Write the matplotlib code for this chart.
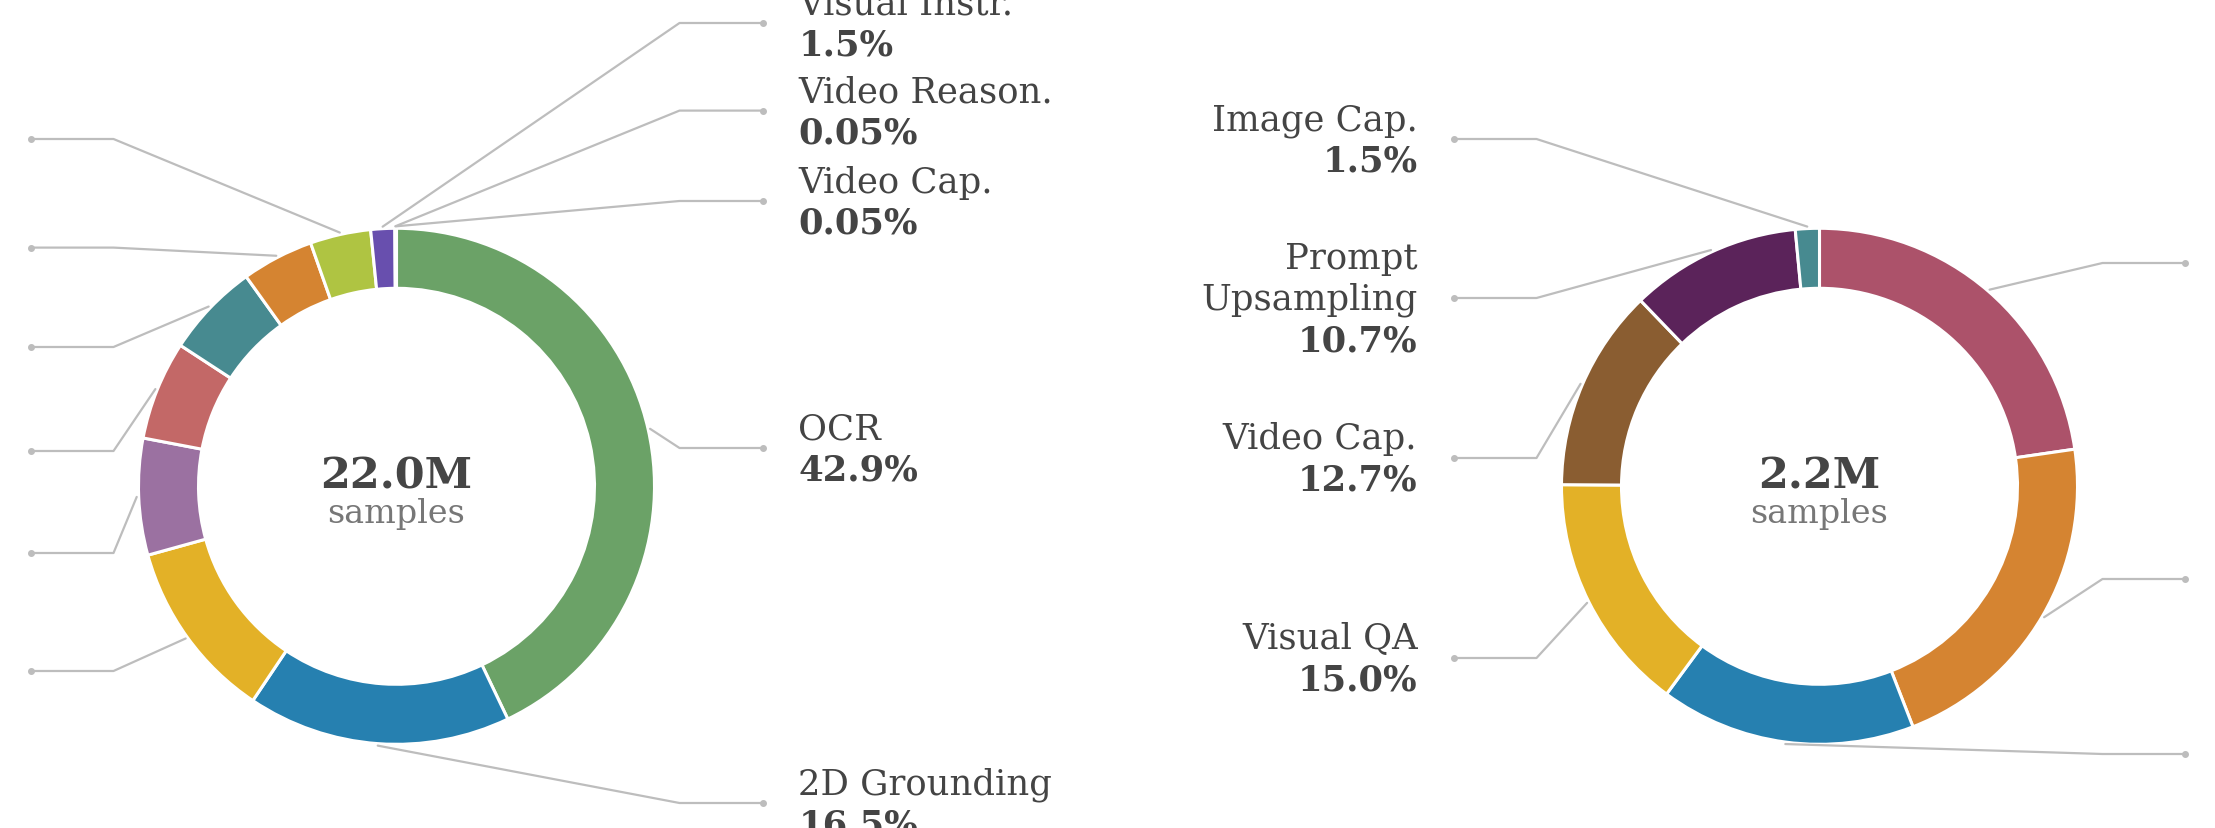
import matplotlib
matplotlib.use("Agg")
import matplotlib.pyplot as plt
import numpy as np

W, H = 2215, 829

# left donut: 22.0M samples (clockwise from 12 o'clock)
left_names = ["OCR", "2D Grounding", "Visual QA", "Counting", "Chart QA",
              "Image Cap.", "Doc. QA", "Text-only", "Visual Instr.",
              "Video Reason.", "Video Cap."]
left_pct = [42.9, 16.5, 11.3, 7.3, 6.2, 5.9, 4.5, 3.8, 1.5, 0.05, 0.05]
left_colors = ["#6ba267", "#2680b0", "#e3b127", "#9b71a1", "#c36867",
               "#478a90", "#d58431", "#afc442", "#684fae", "#c9c9c9", "#9a9a9a"]

# right donut: 2.2M samples
right_names = ["Embodied Reason.", "Physical Reason.", "2D Grounding",
               "Visual QA", "Video Cap.", "Prompt\nUpsampling", "Image Cap."]
right_pct = [22.7, 21.4, 16.0, 15.0, 12.7, 10.7, 1.5]
right_colors = ["#ac526a", "#d58431", "#2680b0", "#e3b127", "#8a5d31",
                "#5b235a", "#478a90"]

totals = ["22.0M", "2.2M"]

# layout: label side and leader-line height (pixels from top)
left_side = ["r", "r", "l", "l", "l", "l", "l", "l", "r", "r", "r"]
left_label_y = [449, 804, 672, 554, 452, 348, 248.6, 140, 24, 111.6, 202]
right_side = ["r", "r", "r", "l", "l", "l", "l"]
right_label_y = [264, 580, 755, 659, 459, 299, 140]

CENTERS = [(396.5, 487.3), (1819.5, 487.3)]
R, RING = 258, 60
ELBOW, DOT, TEXT_X = 283, 366, 402
LINE_STEP = 41
FONT = ["DejaVu Serif"]
TXT = "#444444"
LEAD = "#bdbdbd"


def fmt(v):
    return f"{v:.2f}%" if v < 0.1 else f"{v:.1f}%"


def donut(ax, center, names, pct, colors, sides, label_ys, total):
    cx, cy_img = center
    cy = H - cy_img
    wedges, _ = ax.pie(pct, colors=colors, startangle=90, counterclock=False,
                       radius=R, center=(cx, cy),
                       wedgeprops=dict(width=RING, edgecolor="white", linewidth=2.2))
    for w, name, v, side, ly in zip(wedges, names, pct, sides, label_ys):
        mid = np.deg2rad((w.theta1 + w.theta2) / 2)
        sx, sy = cx + (R + 2) * np.cos(mid), cy + (R + 2) * np.sin(mid)
        sgn = 1 if side == "r" else -1
        y = H - ly
        ex, dx = cx + sgn * ELBOW, cx + sgn * DOT
        ax.plot([sx, ex, dx], [sy, y, y], color=LEAD, lw=1.6,
                solid_capstyle="round", zorder=1)
        ax.plot([dx], [y], "o", color=LEAD, ms=4, zorder=1)
        lines = name.split("\n")
        n = len(lines) + 1
        tx = cx + sgn * TEXT_X
        ha = "left" if side == "r" else "right"
        for i, t in enumerate(lines + [fmt(v)]):
            yy = y - (i - (n - 1) / 2) * LINE_STEP - 1
            bold = i == n - 1
            ax.text(tx, yy, t, ha=ha, va="center", fontsize=25.5, color=TXT,
                    family=FONT, fontweight="bold" if bold else "normal")
    ax.text(cx, cy + 11, total, ha="center", va="center", fontsize=31,
            color="#454545", family=FONT, fontweight="bold")
    ax.text(cx, cy - 27, "samples", ha="center", va="center", fontsize=24,
            color="#777777", family=FONT)


def main():
    fig = plt.figure(figsize=(W / 100, H / 100), dpi=100)
    ax = fig.add_axes([0, 0, 1, 1])
    donut(ax, CENTERS[0], left_names, left_pct, left_colors,
          left_side, left_label_y, totals[0])
    donut(ax, CENTERS[1], right_names, right_pct, right_colors,
          right_side, right_label_y, totals[1])
    ax.set_xlim(0, W)
    ax.set_ylim(0, H)
    ax.set_aspect("equal")
    ax.axis("off")
    fig.savefig("out.png", dpi=100, facecolor="white")
    plt.close(fig)


if __name__ == "__main__":
    main()
